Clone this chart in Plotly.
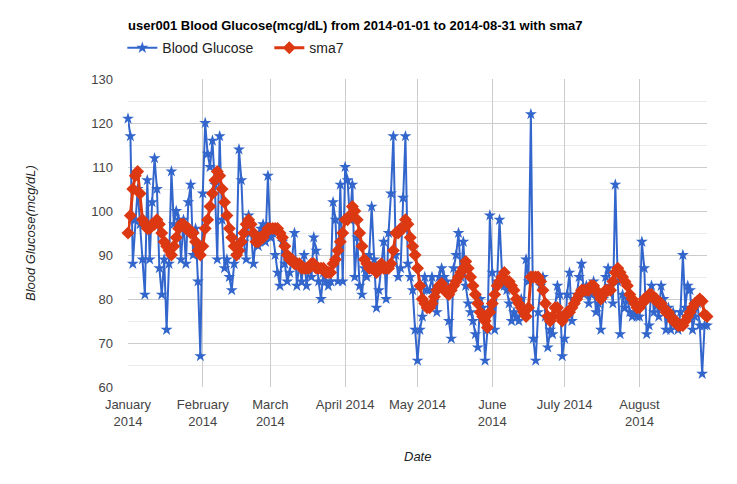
"""Blood glucose with 7-day simple moving average, Google-Charts look."""

import pandas as pd
import plotly.graph_objects as go

# daily readings (mcg/dL)
glucose_jan = [121, 117, 88, 98, 105, 97, 89, 81, 107, 89, 102, 112, 105, 87, 81, 89,
               73, 88, 109, 97, 100, 98, 89, 98, 88, 102, 106, 90, 96, 84, 67]
glucose_feb = [104, 120, 113, 110, 116, 106, 89, 117, 98, 87, 89, 85, 82, 88, 90, 114,
               107, 93, 89, 99, 95, 88, 94, 92, 96, 97, 93, 108]
glucose_mar = [94, 95, 90, 86, 83, 93, 88, 84, 86, 89, 95, 83, 88, 84, 90, 83,
               87, 85, 94, 91, 84, 80, 86, 84, 83, 84, 102, 98, 84, 106, 84]
glucose_apr = [110, 107, 98, 106, 85, 94, 83, 81, 87, 85, 90, 101, 89, 78, 82, 87,
               93, 80, 95, 104, 117, 90, 85, 87, 103, 117, 88, 85, 82, 73]
glucose_may = [66, 73, 76, 85, 82, 82, 85, 80, 77, 85, 87, 85, 84, 75, 71, 87,
               90, 95, 85, 93, 83, 79, 77, 75, 72, 69, 80, 78, 66, 73, 99]
glucose_jun = [86, 73, 84, 98, 86, 83, 82, 79, 75, 77, 76, 75, 80, 78, 89, 84,
               122, 71, 66, 77, 83, 85, 76, 69, 73, 72, 78, 83, 81, 67]
glucose_jul = [71, 81, 86, 75, 80, 81, 85, 88, 81, 83, 79, 81, 84, 77, 79, 73,
               80, 85, 87, 83, 79, 106, 84, 72, 81, 78, 80, 77, 76, 77, 76]
glucose_aug = [76, 93, 87, 72, 74, 83, 77, 79, 76, 83, 80, 73, 78, 73, 77, 74,
               73, 77, 90, 78, 83, 82, 73, 76, 79, 74, 63, 74, 74]

# sma7 as drawn
sma_jan = [95, 99, 105, 108, 109, 104, 98, 97, 96, 96, 97, 97, 98, 97, 95, 93,
           92, 91, 90, 92, 94, 96, 97, 97, 96, 96, 95, 95, 93, 91, 90]
sma_feb = [92, 96, 98, 101, 104, 107, 109, 108, 105, 102, 99, 96, 94, 92, 90, 91,
           93, 95, 97, 98, 97, 95, 93, 93, 94, 94, 95, 96]
sma_mar = [96, 96, 96, 96, 95, 94, 92, 90, 89, 89, 88, 88, 88, 87, 87, 87,
           87, 88, 88, 87, 87, 87, 87, 86, 86, 86, 88, 89, 91, 93, 95]
sma_apr = [98, 98, 99, 101, 100, 98, 95, 92, 89, 88, 87, 87, 87, 86, 87, 88,
           87, 87, 87, 88, 91, 95, 95, 96, 96, 98, 97, 94, 92, 90]
sma_may = [87, 83, 80, 79, 78, 78, 79, 80.5, 82, 83, 83.5, 82.5, 81.5, 81, 82, 83,
           84, 85, 86, 87, 88.5, 87, 85, 83, 81, 79, 77, 76, 75, 73.5, 77]
sma_jun = [79, 81, 83, 84, 85, 86, 84, 84, 83, 82, 80, 79, 78, 77, 76, 78,
           85, 85, 85, 85, 84, 82, 79, 76, 75, 76, 78, 78, 76, 75]
sma_jul = [76, 77, 77, 78, 79, 80, 81, 82, 82, 82, 82, 83, 83, 82, 81, 80,
           81, 82, 82, 82, 84, 86, 87, 86, 85, 84, 83, 81, 80, 79, 78]
sma_aug = [78, 79, 80, 80, 81, 81, 80, 80, 79, 79, 78, 77, 77, 76, 75, 75,
           74, 74, 74, 75, 76, 77, 78, 79, 79.5, 80, 79.5, 76.5, 76]

month_starts = ["2014-01-01", "2014-02-01", "2014-03-01", "2014-04-01",
                "2014-05-01", "2014-06-01", "2014-07-01", "2014-08-01"]
month_labels = ["January<br>2014", "February<br>2014", "March<br>2014", "April 2014",
                "May 2014", "June<br>2014", "July 2014", "August<br>2014"]

glucose = (glucose_jan + glucose_feb + glucose_mar + glucose_apr
           + glucose_may + glucose_jun + glucose_jul + glucose_aug)
sma7 = sma_jan + sma_feb + sma_mar + sma_apr + sma_may + sma_jun + sma_jul + sma_aug
dates = pd.date_range("2014-01-01", periods=len(glucose), freq="D")

FONT = "Liberation Sans, Arial, sans-serif"

# the page body adds an 8px offset, so margins are shifted to compensate
fig = go.Figure()
fig.add_trace(
    go.Scatter(
        x=dates,
        y=glucose,
        mode="lines+markers",
        name="Blood Glucose",
        line={"color": "#3366cc", "width": 2},
        marker={"symbol": "star", "size": 9, "color": "#3366cc"},
        cliponaxis=False,
    )
)
fig.add_trace(
    go.Scatter(
        x=dates,
        y=sma7,
        mode="lines+markers",
        name="sma7",
        line={"color": "#dc3912", "width": 3},
        marker={"symbol": "diamond", "size": 10, "color": "#dc3912"},
        cliponaxis=False,
    )
)

fig.update_layout(
    width=737,
    height=484,
    paper_bgcolor="white",
    plot_bgcolor="white",
    font={"family": FONT, "size": 13, "color": "#444444"},
    margin={"l": 120, "r": 38, "t": 71, "b": 105},
    title={
        "text": "user001 Blood Glucose(mcg/dL) from 2014-01-01 to 2014-08-31 with sma7",
        "x": 0,
        "xref": "paper",
        "xanchor": "left",
        "y": 1 - 17 / 484,
        "yref": "container",
        "yanchor": "middle",
        "font": {"family": FONT, "size": 13, "color": "#000000", "weight": "bold"},
    },
    legend={
        "orientation": "h",
        "x": -0.0098,
        "xanchor": "left",
        "y": 1.1,
        "yanchor": "middle",
        "font": {"family": FONT, "size": 14, "color": "#222222"},
        "itemwidth": 30,
        "entrywidth": 102,
        "entrywidthmode": "pixels",
    },
    showlegend=True,
    xaxis={
        "type": "date",
        "range": ["2014-01-01", "2014-08-29"],
        "tickvals": month_starts,
        "ticktext": month_labels,
        "showgrid": True,
        "gridcolor": "#cccccc",
        "zeroline": False,
        "showline": False,
        "ticks": "",
        "ticklabelstandoff": 8,
        "tickfont": {"family": FONT, "size": 13, "color": "#444444"},
    },
    yaxis={
        "range": [60, 130],
        "dtick": 10,
        "showgrid": True,
        "gridcolor": "#cccccc",
        "minor": {"dtick": 5, "showgrid": True, "gridcolor": "#ebebeb"},
        "zeroline": False,
        "showline": False,
        "ticks": "",
        "ticklabelstandoff": 14,
        "tickfont": {"family": FONT, "size": 13, "color": "#444444"},
    },
    annotations=[
        {
            "text": "Date",
            "xref": "paper",
            "yref": "paper",
            "x": 0.5,
            "xanchor": "center",
            "y": (387 - 456) / 308,
            "yanchor": "middle",
            "showarrow": False,
            "font": {"family": FONT, "size": 13, "color": "#222222", "style": "italic"},
        },
        {
            "text": "Blood Glucose(mcg/dL)",
            "xref": "paper",
            "yref": "paper",
            "x": (30 - 128) / 579,
            "xanchor": "center",
            "y": 0.5,
            "yanchor": "middle",
            "textangle": -90,
            "showarrow": False,
            "font": {"family": FONT, "size": 13, "color": "#222222", "style": "italic"},
        },
    ],
)

fig.write_html("out.html")
